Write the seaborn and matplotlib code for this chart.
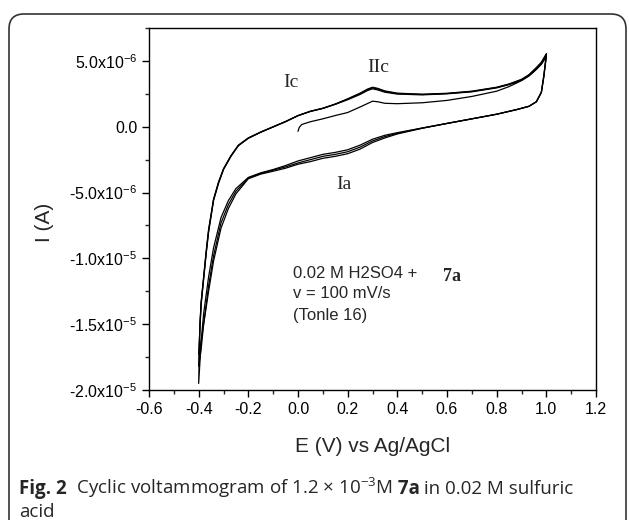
import numpy as np
import pandas as pd
import seaborn as sns
import matplotlib.pyplot as plt
from matplotlib.ticker import MultipleLocator, FuncFormatter
from matplotlib.patches import FancyBboxPatch

# Cyclic voltammogram (E in V, I in microampere)
E_init = [0.0, 0.005, 0.015, 0.05, 0.1, 0.15, 0.2, 0.25, 0.3, 0.32, 0.35, 0.4,
          0.5, 0.6, 0.7, 0.8, 0.85, 0.9, 0.93, 0.96, 0.98, 1.0]
I_init = [-0.35, -0.05, 0.17, 0.38, 0.6, 0.85, 1.08, 1.5, 1.94, 1.9, 1.78, 1.75,
          1.82, 2.0, 2.3, 2.7, 3.05, 3.5, 3.85, 4.35, 4.75, 5.3]

E_down = [1.0, 0.995, 0.99, 0.98, 0.96, 0.93, 0.88, 0.8, 0.7, 0.6, 0.5, 0.4,
          0.35, 0.3, 0.25, 0.2, 0.15, 0.1, 0.05, 0.0, -0.05, -0.1, -0.15, -0.2,
          -0.25, -0.28, -0.31, -0.34, -0.36, -0.38, -0.39, -0.4]
I_down_1 = [5.3, 4.6, 3.8, 2.6, 1.9, 1.55, 1.3, 0.95, 0.6, 0.25, -0.1, -0.45,
            -0.65, -0.95, -1.4, -1.75, -1.95, -2.1, -2.35, -2.6, -2.95, -3.25, -3.5, -3.85,
            -4.7, -5.6, -6.9, -9.2, -11.4, -14.2, -16.3, -19.5]
I_down_2 = [5.4, 4.65, 3.85, 2.6, 1.9, 1.55, 1.3, 0.95, 0.6, 0.25, -0.1, -0.5,
            -0.75, -1.08, -1.55, -1.9, -2.1, -2.25, -2.5, -2.75, -3.05, -3.3, -3.55, -3.9,
            -4.9, -5.9, -7.3, -9.8, -12.1, -15.0, -16.9, -18.2]
I_down_3 = [5.5, 4.7, 3.9, 2.65, 1.9, 1.55, 1.3, 0.95, 0.6, 0.25, -0.12, -0.55,
            -0.85, -1.2, -1.7, -2.05, -2.25, -2.4, -2.65, -2.85, -3.15, -3.38, -3.6, -3.95,
            -5.1, -6.2, -7.7, -10.2, -12.5, -15.0, -16.3, -17.3]

E_up = [-0.4, -0.395, -0.39, -0.38, -0.37, -0.36, -0.34, -0.32, -0.3, -0.27, -0.24, -0.2,
        -0.15, -0.1, -0.05, 0.0, 0.05, 0.1, 0.15, 0.2, 0.25, 0.28, 0.3, 0.32,
        0.35, 0.4, 0.5, 0.6, 0.7, 0.8, 0.85, 0.9, 0.93, 0.96, 0.98, 1.0]
I_up_1 = [-19.5, -15.0, -13.3, -11.4, -9.5, -7.8, -5.5, -4.2, -3.2, -2.2, -1.4, -0.85,
          -0.4, 0.0, 0.4, 0.85, 1.18, 1.4, 1.7, 2.05, 2.45, 2.75, 2.88, 2.8,
          2.62, 2.48, 2.42, 2.5, 2.65, 2.95, 3.2, 3.55, 3.9, 4.4, 4.8, 5.4]
I_up_2 = [-18.2, -15.2, -13.4, -11.5, -9.6, -7.9, -5.55, -4.25, -3.22, -2.22, -1.42, -0.86,
          -0.41, -0.01, 0.39, 0.84, 1.17, 1.4, 1.72, 2.1, 2.52, 2.82, 2.95, 2.87,
          2.68, 2.52, 2.45, 2.52, 2.68, 2.98, 3.22, 3.57, 3.92, 4.45, 4.85, 5.5]
I_up_3 = [-17.3, -15.3, -13.5, -11.6, -9.7, -8.0, -5.6, -4.3, -3.25, -2.25, -1.44, -0.88,
          -0.42, -0.02, 0.38, 0.84, 1.16, 1.39, 1.72, 2.12, 2.55, 2.86, 3.0, 2.92,
          2.72, 2.55, 2.47, 2.54, 2.7, 3.0, 3.25, 3.6, 3.95, 4.5, 4.9, 5.55]

# one continuous trace per cycle
cycles = [
    (E_init + E_down + E_up, I_init + I_down_1 + I_up_1),
    (E_down + E_up, I_down_2 + I_up_2),
    (E_down + E_up, I_down_3 + I_up_3),
]
frames = []
for k, (e, i) in enumerate(cycles):
    frames.append(pd.DataFrame({"E": e, "I": np.array(i) * 1e-6, "cycle": k}))
df = pd.concat(frames, ignore_index=True)

sns.set_style("ticks")
plt.rcParams["font.family"] = ["Liberation Sans", "DejaVu Sans"]

fig = plt.figure(figsize=(6.29, 5.2), dpi=100)
ax = fig.add_axes([149 / 629, 1 - 390 / 520, 447 / 629, 362 / 520])

sns.lineplot(data=df, x="E", y="I", units="cycle", estimator=None, sort=False,
             color="black", lw=0.9, legend=False, ax=ax)

ax.set_xlim(-0.6, 1.2)
ax.set_ylim(-2.0e-5, 7.5e-6)
ax.xaxis.set_major_locator(MultipleLocator(0.2))
ax.xaxis.set_minor_locator(MultipleLocator(0.1))
ax.yaxis.set_major_locator(MultipleLocator(5e-6))
ax.yaxis.set_minor_locator(MultipleLocator(2.5e-6))
ax.xaxis.set_major_formatter(FuncFormatter(lambda v, p: f"{v:.1f}".replace("-0.0", "0.0")))


def sci_fmt(v, pos):
    if abs(v) < 1e-12:
        return "0.0"
    ex = int(np.floor(np.log10(abs(v))))
    mant = v / 10 ** ex
    return "%.1fx10$^{\\mathregular{%d}}$" % (mant, ex)


ax.yaxis.set_major_formatter(FuncFormatter(sci_fmt))
ax.tick_params(which="major", direction="out", length=5, width=1, labelsize=11.5,
               top=False, right=False, color="black", labelcolor="black")
ax.tick_params(which="minor", direction="out", length=3, width=1, top=False, right=False)
for s in ax.spines.values():
    s.set_visible(True)
    s.set_color("black")
    s.set_linewidth(1.0)

ax.set_xlabel("E (V) vs Ag/AgCl", fontsize=15)
ax.set_ylabel("I (A)", fontsize=15)
ax.xaxis.set_label_coords(0.5, -0.155)
ax.yaxis.set_label_coords(-0.233, 0.464)
ax.xaxis.label.set_va("center")
ax.yaxis.label.set_va("center")

# peak labels
serif = ["Liberation Serif", "DejaVu Serif"]
ax.text(-0.028, 3.36e-6, "Ic", family=serif, fontsize=14, ha="center", va="center")
ax.text(0.324, 4.53e-6, "IIc", family=serif, fontsize=14, ha="center", va="center")
ax.text(0.183, -4.41e-6, "Ia", family=serif, fontsize=14, ha="center", va="center")

ax.text(-0.02, -11.13e-6, "0.02 M H2SO4 +", fontsize=12, ha="left", va="center")
ax.text(0.583, -11.34e-6, "7a", family=serif, fontsize=13, weight="bold",
        ha="left", va="center")
ax.text(-0.02, -12.68e-6, "v = 100 mV/s", fontsize=12, ha="left", va="center")
ax.text(-0.02, -14.35e-6, "(Tonle 16)", fontsize=12, ha="left", va="center")

# caption box
box = FancyBboxPatch((0.09, -0.4), 6.17, 5.46,
                     boxstyle="round,pad=0,rounding_size=0.15",
                     transform=fig.dpi_scale_trans, fill=False,
                     edgecolor="#333333", lw=1.2, clip_on=False)
fig.patches.append(box)

# caption, placed piece by piece on a common baseline
cap = ["Open Sans", "DejaVu Sans"]
cap_size = 13.5
parts = [("Fig. 2", "bold"),
         ("  Cyclic voltammogram of 1.2 \u00d7 10$^{\\mathregular{\u22123}}$M", "normal"),
         (" 7a", "bold"),
         (" in 0.02 M sulfuric", "normal")]
renderer = fig.canvas.get_renderer()
x = 19 / 629
y = 1 - 494 / 520
for txt, w in parts:
    t = fig.text(x, y, txt, family=cap, fontsize=cap_size, weight=w,
                 va="baseline", ha="left")
    x += t.get_window_extent(renderer).width / fig.bbox.width
fig.text(19 / 629, 1 - 517 / 520, "acid", family=cap, fontsize=cap_size,
         va="baseline", ha="left")

fig.savefig("out.png", dpi=100)
